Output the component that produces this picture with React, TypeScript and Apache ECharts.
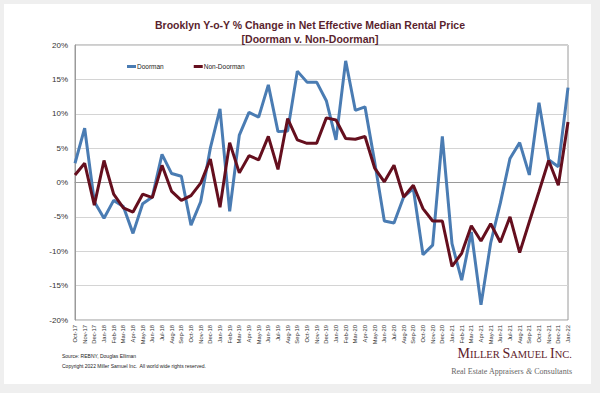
import React, { useEffect, useRef } from "react";
import * as echarts from "echarts";

const months = [
  "Oct-17", "Nov-17", "Dec-17",
  "Jan-18", "Feb-18", "Mar-18", "Apr-18", "May-18", "Jun-18", "Jul-18", "Aug-18", "Sep-18", "Oct-18", "Nov-18", "Dec-18",
  "Jan-19", "Feb-19", "Mar-19", "Apr-19", "May-19", "Jun-19", "Jul-19", "Aug-19", "Sep-19", "Oct-19", "Nov-19", "Dec-19",
  "Jan-20", "Feb-20", "Mar-20", "Apr-20", "May-20", "Jun-20", "Jul-20", "Aug-20", "Sep-20", "Oct-20", "Nov-20", "Dec-20",
  "Jan-21", "Feb-21", "Mar-21", "Apr-21", "May-21", "Jun-21", "Jul-21", "Aug-21", "Sep-21", "Oct-21", "Nov-21", "Dec-21",
  "Jan-22",
];

const doorman = [
  2.8, 7.9, -2.8, -5.2, -2.6, -3.5, -7.4, -3.1, -2.1, 4.1,
  1.3, 0.9, -6.2, -2.8, 5.0, 10.7, -4.2, 6.9, 10.2, 9.5,
  14.2, 7.4, 7.5, 16.2, 14.6, 14.6, 11.9, 6.2, 17.7, 10.5,
  11.0, 3.0, -5.6, -5.9, -2.1, -0.9, -10.5, -9.1, 6.7, -8.9,
  -14.2, -7.2, -17.8, -8.8, -3.0, 3.5, 5.8, 1.1, 11.6, 3.3,
  2.3, 13.8,
];

const nonDoorman = [
  1.1, 2.8, -3.3, 3.2, -1.7, -3.7, -4.3, -1.7, -2.2, 2.5,
  -1.3, -2.6, -1.9, -0.1, 3.4, -3.6, 5.8, 1.4, 3.9, 3.3,
  6.7, 1.9, 9.3, 6.2, 5.7, 5.7, 9.4, 9.1, 6.4, 6.3,
  6.7, 2.1, 0.1, 2.5, -2.1, -0.4, -3.8, -5.6, -5.6, -12.2,
  -10.3, -6.3, -8.5, -6.0, -8.7, -5.0, -10.2, -5.7, -1.3, 3.2,
  -0.4, 8.8,
];

const titleLines = [
  "Brooklyn Y-o-Y % Change in Net Effective Median Rental Price",
  "[Doorman v. Non-Doorman]",
];

const BLUE = "#4a7cb3";
const MAROON = "#650f1e";

export default function App() {
  const ref = useRef<HTMLDivElement>(null);

  useEffect(() => {
    document.body.style.margin = "0";
    const chart = echarts.init(ref.current!, undefined, { renderer: "svg" });
    chart.setOption({
      animation: false,
      backgroundColor: "#efefef",
      textStyle: { fontFamily: "Liberation Sans, Arial, sans-serif" },
      title: {
        text: titleLines.join("\n"),
        left: 305,
        top: 13,
        textAlign: "center",
        textStyle: {
          fontSize: 10.5,
          fontWeight: "bold",
          color: "#5a1f2e",
          lineHeight: 14,
          fontFamily: "Liberation Sans, Arial, sans-serif",
        },
      },
      legend: {
        left: 122,
        top: 58,
        itemWidth: 9,
        itemHeight: 3,
        itemGap: 30,
        icon: "rect",
        textStyle: { fontSize: 6.5, color: "#222", padding: [0, 0, 0, -4] },
        data: ["Doorman", "Non-Doorman"],
      },
      grid: {
        left: 75,
        top: 45,
        right: 32,
        bottom: 73,
        show: true,
        borderColor: "#9a9a9a",
        borderWidth: 1,
        backgroundColor: "transparent",
      },
      xAxis: {
        type: "category",
        data: months,
        boundaryGap: false,
        axisLine: { show: true, lineStyle: { color: "#9a9a9a" } },
        axisTick: { show: false },
        axisLabel: {
          interval: 0,
          rotate: 90,
          fontSize: 5.8,
          color: "#333",
          margin: 5,
        },
        splitLine: { show: false },
      },
      yAxis: {
        type: "value",
        min: -20,
        max: 20,
        interval: 5,
        axisLine: { show: true, lineStyle: { color: "#9a9a9a" } },
        axisTick: { show: false },
        axisLabel: { formatter: "{value}%", fontSize: 8, color: "#333", margin: 7 },
        splitLine: { show: true, lineStyle: { color: "#d4d4d4", width: 1 } },
      },
      series: [
        {
          name: "Doorman",
          type: "line",
          data: doorman,
          symbol: "none",
          lineStyle: { color: BLUE, width: 3 },
          itemStyle: { color: BLUE },
          z: 2,
        },
        {
          name: "Non-Doorman",
          type: "line",
          data: nonDoorman,
          symbol: "none",
          lineStyle: { color: MAROON, width: 3 },
          itemStyle: { color: MAROON },
          z: 3,
        },
      ],
      graphic: [
        {
          type: "rect",
          z: -10,
          silent: true,
          shape: { x: 4, y: 4, width: 587, height: 380 },
          style: { fill: "#ffffff" },
        },
        {
          type: "text",
          left: 62,
          top: 353,
          style: {
            text: "Source: REBNY, Douglas Elliman",
            fontSize: 5,
            fill: "#222",
            fontFamily: "Liberation Sans, Arial, sans-serif",
          },
        },
        {
          type: "text",
          left: 62,
          top: 363,
          style: {
            text: "Copyright 2022 Miller Samuel Inc.  All world wide rights reserved.",
            fontSize: 5,
            fill: "#222",
            fontFamily: "Liberation Sans, Arial, sans-serif",
          },
        },
        {
          type: "text",
          right: 28,
          top: 346,
          style: {
            text: "{b|M}{s|ILLER }{b|S}{s|AMUEL }{b|I}{s|NC.}",
            fill: "#5e2129",
            fontFamily: "Liberation Serif, Times New Roman, serif",
            rich: {
              b: { fontSize: 14, fill: "#5e2129", fontFamily: "Liberation Serif, serif", verticalAlign: "bottom" },
              s: { fontSize: 10.5, fill: "#5e2129", fontFamily: "Liberation Serif, serif", verticalAlign: "bottom" },
            },
          },
        },
        {
          type: "text",
          right: 28,
          top: 367,
          style: {
            text: "Real Estate Appraisers {i|&} Consultants",
            fontSize: 8,
            fill: "#666",
            fontFamily: "Liberation Serif, Times New Roman, serif",
            rich: {
              i: { fontSize: 8, fill: "#666", fontStyle: "italic", fontFamily: "Liberation Serif, serif" },
            },
          },
        },
      ],
    });
    return () => chart.dispose();
  }, []);

  return (
    <div
      ref={ref}
      style={{ position: "absolute", left: 0, top: 0, width: 600, height: 393 }}
    />
  );
}
